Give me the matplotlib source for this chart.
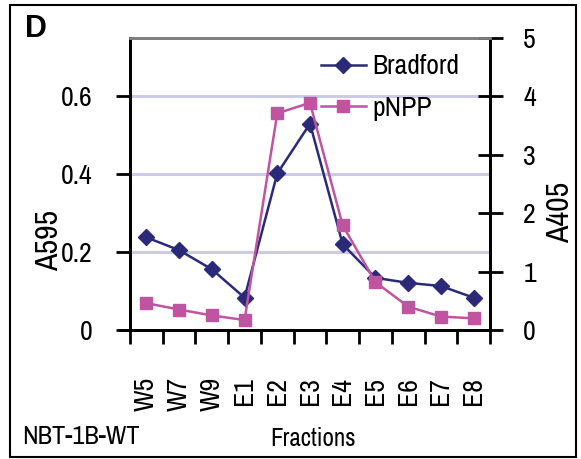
import matplotlib
matplotlib.use("Agg")
import matplotlib.pyplot as plt
from matplotlib.patches import Rectangle
import numpy as np

plt.rcParams['font.family'] = ['Archivo Narrow', 'Liberation Sans', 'DejaVu Sans']

fractions = ["W5", "W7", "W9", "E1", "E2", "E3", "E4", "E5", "E6", "E7", "E8"]
bradford = [0.238, 0.205, 0.156, 0.083, 0.402, 0.530, 0.220, 0.134, 0.121, 0.113, 0.083]
pnpp = [0.46, 0.35, 0.25, 0.17, 3.71, 3.89, 1.79, 0.82, 0.40, 0.23, 0.20]
left_ticks = [0, 0.2, 0.4, 0.6]
left_labels = ["0", "0.2", "0.4", "0.6"]
right_ticks = [0, 1, 2, 3, 4, 5]

navy = "#2a2a78"
pink = "#c054a0"

fig = plt.figure(figsize=(5.81, 4.59), dpi=100)
ax = fig.add_axes([130/581, 1-330/459, 360/581, 292/459])
ax2 = ax.twinx()

x = np.arange(len(fractions))
ax.set_xlim(-0.5, len(fractions) - 0.5)
ax.set_ylim(0, 0.75)
ax2.set_ylim(0, 5)

for v in [0.2, 0.4, 0.6]:
    ax.axhline(v, color="#cbcbe8", lw=2.2, zorder=0)

lb, = ax.plot(x, bradford, color=navy, lw=1.8, marker="D", markersize=8, zorder=3)
lp, = ax2.plot(x, pnpp, color=pink, lw=1.8, marker="s", markersize=9, zorder=3)

for a in (ax, ax2):
    a.spines['top'].set_color("#808080")
    a.spines['top'].set_linewidth(2)
    for s in ('left', 'right', 'bottom'):
        a.spines[s].set_linewidth(2)
        a.spines[s].set_color("black")

ax.set_yticks(left_ticks)
ax.set_yticklabels(left_labels)
ax.tick_params(axis='y', direction='out', length=10, width=2, pad=17, labelsize=20)
ax2.set_yticks(right_ticks)
ax2.tick_params(axis='y', direction='inout', length=18, width=2, pad=15, labelsize=20)

ax.set_xticks(x)
ax.set_xticklabels(fractions, rotation=90, fontsize=20)
ax.tick_params(axis='x', which='major', length=0, pad=34)
ax.set_xticks(np.arange(-0.5, len(fractions), 1), minor=True)
ax.tick_params(axis='x', which='minor', direction='out', length=10, width=2)

ax.set_ylabel("A595", fontsize=23)
ax.yaxis.set_label_coords(-0.185, 0.305)
ax2.set_ylabel("A405", fontsize=23, rotation=90)
ax2.yaxis.set_label_coords(1.155, 0.404)

ax.plot([-0.5 - 10/32.7, -0.5], [0, 0], color="black", lw=2, clip_on=False, zorder=5)

leg = ax.legend([lb, lp], ["Bradford", "pNPP"], loc="upper right", frameon=False,
                fontsize=20, handlelength=1.6, labelspacing=0.6,
                bbox_to_anchor=(0.985, 1.03), handletextpad=0.25)

fig.text(25/581, 1-29/459, "D", fontsize=22, fontweight="bold", va="center", ha="left",
         family=['Liberation Sans'])
fig.text(313/581, 1-438/459, "Fractions", fontsize=18, ha="center", va="center")
fig.text(22/581, 1-436/459, "NBT-1B-WT", fontsize=19, ha="left", va="center")

fig.patches.append(Rectangle((10/581, 2/459), 566/581, 452/459, transform=fig.transFigure,
                             fill=False, edgecolor="black", lw=1.5))

fig.savefig("out.png", dpi=100)
